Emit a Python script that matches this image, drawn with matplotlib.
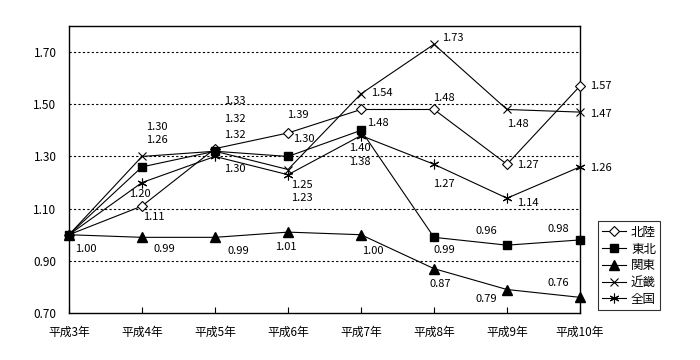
import matplotlib
matplotlib.use("Agg")
import matplotlib.pyplot as plt

plt.rcParams['font.family'] = ['Noto Sans CJK JP', 'DejaVu Sans']

# --- データ ---
years = ['平成3年', '平成4年', '平成5年', '平成6年', '平成7年', '平成8年', '平成9年', '平成10年']

hokuriku = [1.00, 1.11, 1.33, 1.39, 1.48, 1.48, 1.27, 1.57]
tohoku = [1.00, 1.26, 1.32, 1.30, 1.40, 0.99, 0.96, 0.98]
kanto = [1.00, 0.99, 0.99, 1.01, 1.00, 0.87, 0.79, 0.76]
kinki = [1.00, 1.30, 1.32, 1.25, 1.54, 1.73, 1.48, 1.47]
zenkoku = [1.00, 1.20, 1.30, 1.23, 1.38, 1.27, 1.14, 1.26]

# ラベル位置（点からのずれ、ピクセル）
off_hokuriku = [None, (12, -11), (20, 48), (10, 18), (17, -14), (10, 11), (21, -1), (21, 0)]
off_tohoku = [None, (15, 27), (20, 16), (16, 17), (-1, -18), (10, -13), (-21, 14), (-22, 11)]
off_kanto = [(17, -14), (22, -12), (23, -14), (-2, -15), (12, -16), (6, -15), (-21, -9), (-22, 14)]
off_kinki = [None, (15, 29), (20, 32), (14, -15), (21, 1), (19, 6), (11, -15), (21, -2)]
off_zenkoku = [None, (-2, -11), (20, -13), (14, -23), (-1, -26), (10, -20), (21, -5), (21, -1)]

series = [
    ('北陸', hokuriku, off_hokuriku, dict(marker='D', ms=5.5, mfc='white', mec='black', mew=0.8)),
    ('東北', tohoku, off_tohoku, dict(marker='s', ms=6, mfc='black', mec='black')),
    ('関東', kanto, off_kanto, dict(marker='^', ms=7, mfc='black', mec='black')),
    ('近畿', kinki, off_kinki, dict(marker='x', ms=6, mec='black', mew=0.8)),
    ('全国', zenkoku, off_zenkoku, dict(marker=(6, 2, 0), ms=7, mec='black', mew=0.8)),
]

fig = plt.figure(figsize=(7, 3.6), dpi=100)
ax = fig.add_axes([69 / 700, 47 / 360, 511 / 700, 287 / 360])

x = list(range(len(years)))
for name, vals, offs, style in series:
    ax.plot(x, vals, color='black', lw=0.8, label=name, clip_on=False, zorder=3, **style)
    for xi, v, off in zip(x, vals, offs):
        if off is None:
            continue
        ax.annotate(f'{v:.2f}', (xi, v), xytext=off, textcoords='offset pixels',
                    ha='center', va='center', fontsize=8)

ax.set_xlim(0, 7)
ax.set_ylim(0.70, 1.80)
ax.set_yticks([0.70, 0.90, 1.10, 1.30, 1.50, 1.70])
ax.set_yticklabels([f'{t:.2f}' for t in [0.70, 0.90, 1.10, 1.30, 1.50, 1.70]], fontsize=8.5)
ax.set_xticks(x)
ax.set_xticklabels(years, fontsize=8.5)
ax.tick_params(axis='y', length=0, pad=9)
ax.tick_params(axis='x', direction='in', length=4, width=0.8, pad=9)

for t in [0.90, 1.10, 1.30, 1.50, 1.70]:
    ax.axhline(t, color='black', lw=0.8, ls=(0, (2, 2)), zorder=1)

for s in ax.spines.values():
    s.set_linewidth(1.0)

leg = ax.legend(loc='lower left', bbox_to_anchor=(1.035, 0.01), fontsize=9,
                frameon=True, fancybox=False, handlelength=1.9, borderpad=0.35,
                labelspacing=0.3, handletextpad=0.4, borderaxespad=0)
leg.get_frame().set_edgecolor('black')
leg.get_frame().set_linewidth(0.8)

fig.savefig('out.png', dpi=100)
